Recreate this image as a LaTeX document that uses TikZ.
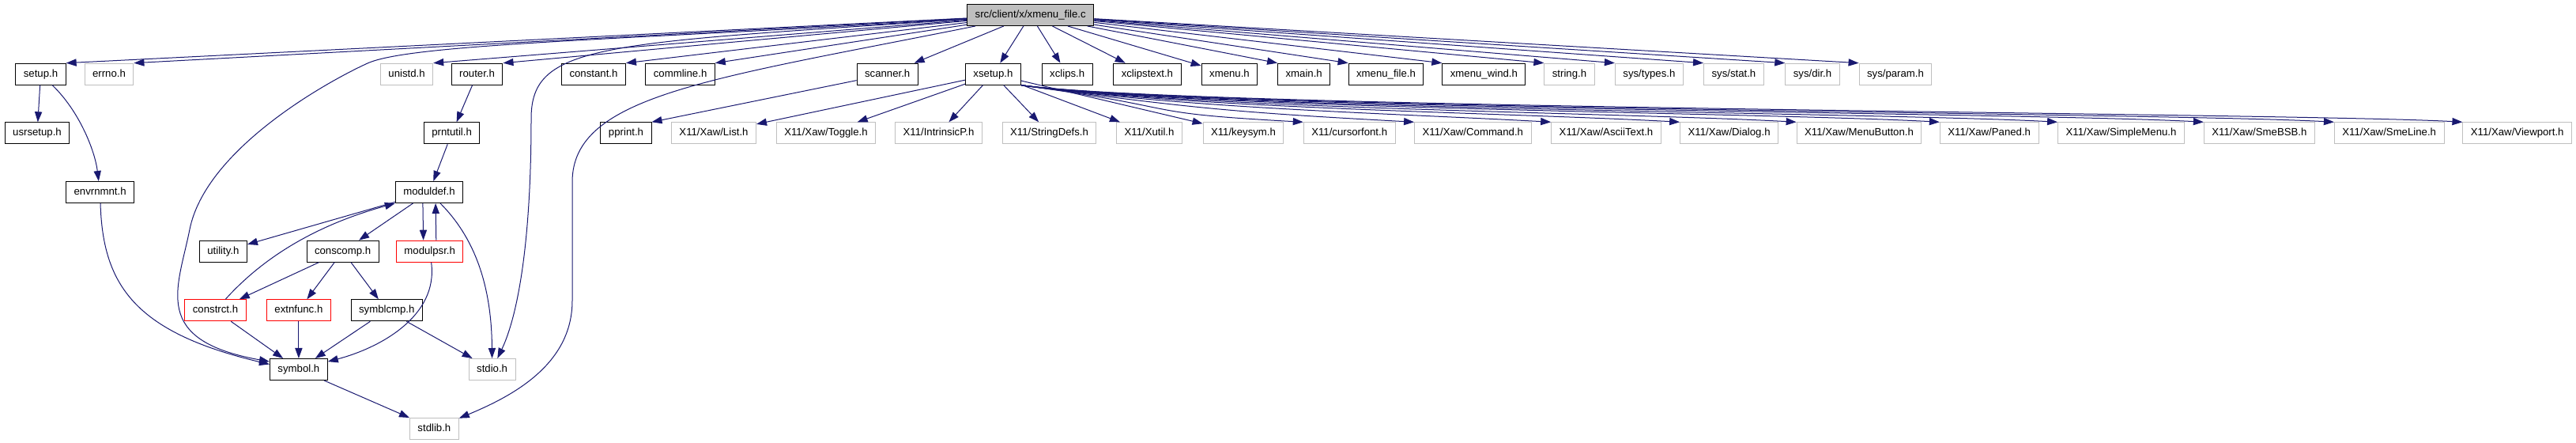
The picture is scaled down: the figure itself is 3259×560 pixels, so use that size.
\documentclass[tikz,border=0pt]{standalone}
\usepackage{fontspec}
\setmainfont{Liberation Sans}
\usetikzlibrary{arrows.meta}
\definecolor{edgeblue}{HTML}{191970}
\definecolor{extgray}{HTML}{BFBFBF}

\begin{document}
\begin{tikzpicture}[x=0.5pt,y=-0.5pt,font=\fontsize{6.6}{8}\selectfont,
    box/.style={draw=black,line width=0.5pt,minimum height=13.5pt,inner xsep=5pt,inner ysep=0pt,text height=4.9pt,text depth=1.4pt},
    ext/.style={box,draw=extgray},
    trunc/.style={box,draw=red},
    edge/.style={draw=edgeblue,line width=0.5pt,-{Triangle[length=6.5pt,width=4.6pt]}}]
        \useasboundingbox (0,0) rectangle (3259,560);
        \node[box,fill=extgray] (title) at (1303.7,19) {src/client/x/xmenu\_file.c};

        \node[box] (setup) at (51.5,93.7) {setup.h};
        \node[ext] (errno) at (138,93.7) {errno.h};
        \node[ext] (unistd) at (514.6,93.7) {unistd.h};
        \node[box] (router) at (603.6,93.7) {router.h};
        \node[box] (constant) at (751,93.7) {constant.h};
        \node[box] (commline) at (860.6,93.7) {commline.h};
        \node[box] (scanner) at (1122.7,93.7) {scanner.h};
        \node[box] (xsetup) at (1256.4,93.7) {xsetup.h};
        \node[box] (xclips) at (1350.2,93.7) {xclips.h};
        \node[box] (xclipstext) at (1451.4,93.7) {xclipstext.h};
        \node[box] (xmenu) at (1555.5,93.7) {xmenu.h};
        \node[box] (xmain) at (1649.7,93.7) {xmain.h};
        \node[box] (xmenufile) at (1753.5,93.7) {xmenu\_file.h};
        \node[box] (xmenuwind) at (1877.4,93.7) {xmenu\_wind.h};
        \node[ext] (string) at (1985.5,93.7) {string.h};
        \node[ext] (systypes) at (2086.4,93.7) {sys/types.h};
        \node[ext] (sysstat) at (2193.4,93.7) {sys/stat.h};
        \node[ext] (sysdir) at (2293,93.7) {sys/dir.h};
        \node[ext] (sysparam) at (2398,93.7) {sys/param.h};

        \node[box] (usrsetup) at (47,168.3) {usrsetup.h};
        \node[box] (prntutil) at (571.6,168.3) {prntutil.h};
        \node[box] (pprint) at (792,168.3) {pprint.h};
        \node[ext] (xawlist) at (903,168.3) {X11/Xaw/List.h};
        \node[ext] (xawtoggle) at (1045,168.3) {X11/Xaw/Toggle.h};
        \node[ext] (intrinsicp) at (1187.5,168.3) {X11/IntrinsicP.h};
        \node[ext] (stringdefs) at (1327.5,168.3) {X11/StringDefs.h};
        \node[ext] (xutil) at (1454,168.3) {X11/Xutil.h};
        \node[ext] (keysym) at (1573,168.3) {X11/keysym.h};
        \node[ext] (cursorfont) at (1707.2,168.3) {X11/cursorfont.h};
        \node[ext] (xawcommand) at (1863.3,168.3) {X11/Xaw/Command.h};
        \node[ext] (xawascii) at (2032,168.3) {X11/Xaw/AsciiText.h};
        \node[ext] (xawdialog) at (2187.6,168.3) {X11/Xaw/Dialog.h};
        \node[ext] (xawmenubtn) at (2352,168.3) {X11/Xaw/MenuButton.h};
        \node[ext] (xawpaned) at (2516.7,168.3) {X11/Xaw/Paned.h};
        \node[ext] (xawsimplemenu) at (2683.5,168.3) {X11/Xaw/SimpleMenu.h};
        \node[ext] (xawsmebsb) at (2858.4,168.3) {X11/Xaw/SmeBSB.h};
        \node[ext] (xawsmeline) at (3022.7,168.3) {X11/Xaw/SmeLine.h};
        \node[ext] (xawviewport) at (3184.7,168.3) {X11/Xaw/Viewport.h};

        \node[box] (envrnmnt) at (126.6,243) {envrnmnt.h};
        \node[box] (moduldef) at (543,243) {moduldef.h};
        \node[box] (utility) at (282.4,317.7) {utility.h};
        \node[box] (conscomp) at (433.6,317.7) {conscomp.h};
        \node[trunc] (modulpsr) at (543.7,317.7) {modulpsr.h};
        \node[trunc] (constrct) at (272.5,392.3) {constrct.h};
        \node[trunc] (extnfunc) at (377.9,392.3) {extnfunc.h};
        \node[box] (symblcmp) at (489.3,392.3) {symblcmp.h};
        \node[box] (symbol) at (377.9,467) {symbol.h};
        \node[ext] (stdio) at (622.6,467) {stdio.h};
        \node[ext] (stdlib) at (549.4,541.7) {stdlib.h};

        \foreach \n in {setup,errno,unistd,router,constant,commline}
          \draw[edge] (title) -- (\n.north east);
        \foreach \n in {scanner,xsetup,xclips,xclipstext,xmenu}
          \draw[edge] (title) -- (\n);
        \foreach \n in {xmain,xmenufile,xmenuwind,string,systypes,sysstat,sysdir,sysparam}
          \draw[edge] (title) -- (\n.north west);
        \draw[edge] (title) .. controls (800,50) and (520,55) .. (465,80) .. controls (410,105) and (260,190) .. (240,290) .. controls (225,365) and (190,430) .. (symbol.165);
        \draw[edge] (title) .. controls (760,55) and (672,55) .. (672,150) .. controls (672,330) and (650,410) .. (stdio);
        \draw[edge] (title) .. controls (900,100) and (724,120) .. (724,230) -- (724,380) .. controls (724,460) and (650,500) .. (stdlib);

        \draw[edge] (setup) -- (usrsetup);
        \draw[edge] (setup) .. controls (100,140) and (120,190) .. (envrnmnt);
        \draw[edge] (envrnmnt) .. controls (130,360) and (170,420) .. (symbol.170);
        \draw[edge] (router) -- (prntutil);
        \draw[edge] (prntutil) -- (moduldef);
        \draw[edge] (scanner) -- (pprint.north east);

        \foreach \n in {xawlist,xawtoggle,intrinsicp,stringdefs,xutil,keysym}
          \draw[edge] (xsetup) -- (\n);
        \foreach \n in {cursorfont,xawcommand,xawascii,xawdialog,xawmenubtn,xawpaned,xawsimplemenu,xawsmebsb,xawsmeline,xawviewport}
          \draw[edge] (xsetup.south east) .. controls +(220,30) and +(-220,-12) .. (\n.north west);

        \draw[edge] (moduldef) -- (utility);
        \draw[edge] (moduldef) -- (conscomp);
        \draw[edge] (moduldef.-120) -- (modulpsr.120);
        \draw[edge] (modulpsr.60) -- (moduldef.-60);
        \draw[edge] (moduldef) .. controls (600,300) and (622,360) .. (stdio);
        \draw[edge] (modulpsr) .. controls (555,400) and (480,440) .. (symbol.15);
        \draw[edge] (constrct) .. controls (320,340) and (380,290) .. (moduldef.south west);
        \draw[edge] (conscomp) -- (constrct);
        \draw[edge] (conscomp) -- (extnfunc);
        \draw[edge] (conscomp) -- (symblcmp);
        \draw[edge] (constrct) -- (symbol);
        \draw[edge] (extnfunc) -- (symbol);
        \draw[edge] (symblcmp) -- (symbol);
        \draw[edge] (symblcmp) -- (stdio);
        \draw[edge] (symbol) -- (stdlib);
\end{tikzpicture}
\end{document}
